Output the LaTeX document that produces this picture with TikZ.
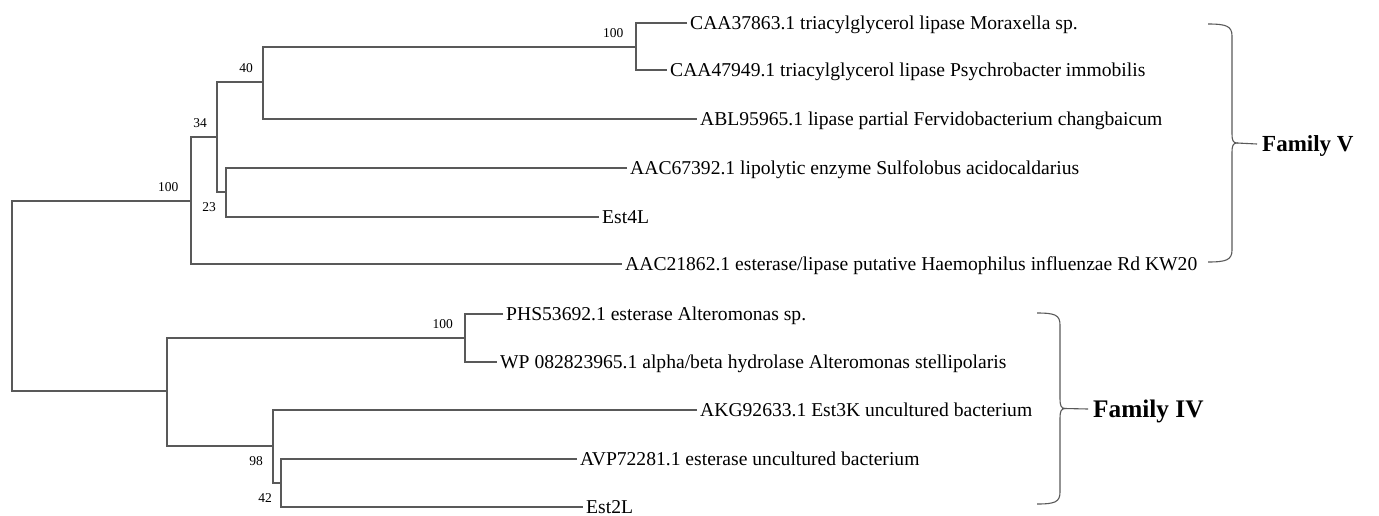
\documentclass[tikz,border=0pt]{standalone}
\usepackage{fontspec}
\setmainfont{Liberation Serif}
\usepackage{tikz}

\begin{document}
\begin{tikzpicture}[x=1pt, y=-1pt,
    branch/.style={draw=black!65, line width=1.1pt},
    leaf/.style={anchor=west, inner xsep=3pt, inner ysep=0pt, text height=12pt, text depth=0pt,
        font=\fontsize{19.6}{22}\selectfont},
    bsup/.style={anchor=south east, inner sep=0pt, xshift=-10pt, yshift=9pt,
        font=\fontsize{13.5}{15}\selectfont},
    bsdown/.style={anchor=north east, inner sep=0pt, xshift=-10pt, yshift=-10pt,
        font=\fontsize{13.5}{15}\selectfont},
    family/.style={anchor=west, inner xsep=5pt, inner ysep=0pt, text height=15pt, text depth=0pt,
        font=\fontsize{23}{26}\selectfont\bfseries},
    famline/.style={draw=black!65, line width=1.1pt}]
             \useasboundingbox (0,0) rectangle (1379,515);

             \coordinate (root) at (12,296);
             \coordinate (nV) at (191,201);
             \coordinate (n34) at (217,137);
             \coordinate (n40) at (263,82);
             \coordinate (nB) at (636,47);
             \coordinate (n23) at (226,192);
             \coordinate (nIV) at (167,391);
             \coordinate (nC) at (465,338);
             \coordinate (n98) at (273,446);
             \coordinate (n42) at (281,483);

             \node[leaf] (caa37) at (687,23) {CAA37863.1 triacylglycerol lipase Moraxella sp.};
             \node[leaf] (caa47) at (667,70) {CAA47949.1 triacylglycerol lipase Psychrobacter immobilis};
             \node[leaf] (abl) at (697,119) {ABL95965.1 lipase partial Fervidobacterium changbaicum};
             \node[leaf] (aac67) at (627,168) {AAC67392.1 lipolytic enzyme Sulfolobus acidocaldarius};
             \node[leaf] (est4l) at (599,217) {Est4L};
             \node[leaf] (aac21) at (622,264) {AAC21862.1 esterase/lipase putative Haemophilus influenzae Rd KW20};
             \node[leaf] (phs) at (503,314) {PHS53692.1 esterase Alteromonas sp.};
             \node[leaf] (wp) at (497,362) {WP 082823965.1 alpha/beta hydrolase Alteromonas stellipolaris};
             \node[leaf] (akg) at (697,410) {AKG92633.1 Est3K uncultured bacterium};
             \node[leaf] (avp) at (577,459) {AVP72281.1 esterase uncultured bacterium};
             \node[leaf] (est2l) at (583,507) {Est2L};

             \draw[branch] (nV) -| (root) |- (nIV);
             \draw[branch] (n34) -| (nV) |- (aac21.west);
             \draw[branch] (n40) -| (n34) |- (n23);
             \draw[branch] (nB) -| (n40) |- (abl.west);
             \draw[branch] (caa37.west) -| (nB) |- (caa47.west);
             \draw[branch] (aac67.west) -| (n23) |- (est4l.west);
             \draw[branch] (nC) -| (nIV) |- (n98);
             \draw[branch] (phs.west) -| (nC) |- (wp.west);
             \draw[branch] (akg.west) -| (n98) |- (n42);
             \draw[branch] (avp.west) -| (n42) |- (est2l.west);

             \node[bsup, xshift=-2.5pt] (bV) at (nV) {100};
             \node[bsup] (b34) at (n34) {34};
             \node[bsup] (b40) at (n40) {40};
             \node[bsup, xshift=-2.5pt] (bB) at (nB) {100};
             \node[bsdown] (b23) at (n23) {23};
             \node[bsup, xshift=-2pt] (bC) at (nC) {100};
             \node[bsdown] (b98) at (n98) {98};
             \node[bsdown, xshift=1pt] (b42) at (n42) {42};

             \draw[famline] (1208,24) .. controls (1226,24) and (1232,26) .. (1232,36) -- (1232,134)
                 .. controls (1232,140) and (1233,143) .. (1237,143) coordinate (tipV)
                 .. controls (1233,143) and (1232,146) .. (1232,152) -- (1232,250)
                 .. controls (1232,260) and (1226,262) .. (1208,262);
             \node[family] (famV) at (1257,144) {Family V};
             \draw[famline] (tipV) -- (famV.west);

             \draw[famline] (1037,313) .. controls (1055,313) and (1060,315) .. (1060,325) -- (1060,399)
                 .. controls (1060,405) and (1061,408.5) .. (1065,408.5) coordinate (tipIV)
                 .. controls (1061,408.5) and (1060,412) .. (1060,418) -- (1060,492)
                 .. controls (1060,502) and (1055,504) .. (1037,504);
             \node[family, text height=16.5pt, font=\fontsize{25.3}{28}\selectfont\bfseries] (famIV) at (1088,409) {Family IV};
             \draw[famline] (tipIV) -- (famIV.west);
             \end{tikzpicture}
\end{document}
